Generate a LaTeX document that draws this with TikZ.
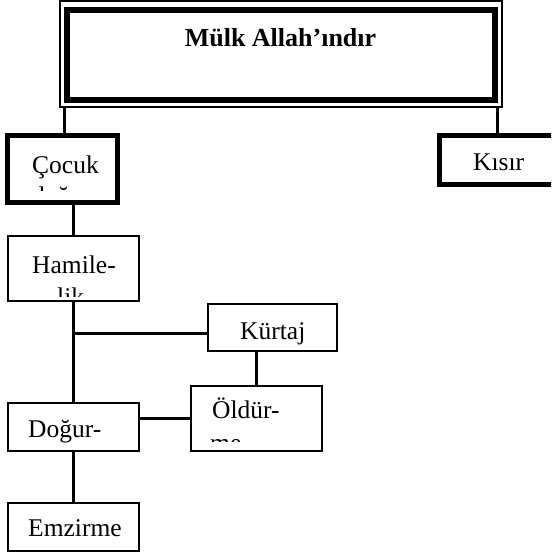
\documentclass[tikz,border=0pt]{standalone}
\usepackage{fontspec}
\setmainfont{Liberation Serif}
\usetikzlibrary{calc}
\tikzset{
  boxthick/.style={draw, rectangle, line width=5pt, inner sep=0pt},
  boxthin/.style={draw, rectangle, line width=1.6pt, inner sep=0pt},
  conn/.style={line width=3.3pt},
  txt/.style={font=\fontsize{25.5}{30}\selectfont, inner sep=0pt, anchor=base west},
}
\begin{document}
\begin{tikzpicture}[x=1pt,y=-1pt]
\useasboundingbox (0,0) rectangle (551,556);
\clip (0,0) rectangle (551,556);
% title boxes
\node[draw, rectangle, line width=1.2pt, minimum width=442pt, minimum height=106pt, inner sep=0pt] (frame) at (281,54) {};
\node[draw, rectangle, line width=6pt, minimum width=428pt, minimum height=90pt, inner sep=0pt] (titlebox) at (281,55) {};
\node[font=\bfseries\fontsize{26}{30}\selectfont, inner sep=0pt, anchor=base] (title) at (280.5,47) {Mülk Allah’ındır};
% level 1
\node[boxthick, minimum width=110pt, minimum height=67pt] (cocuk) at (62.5,169) {};
\node[boxthick, minimum width=123pt, minimum height=49pt] (kisir) at (501,160) {};
% other boxes
\node[boxthin, minimum width=131.4pt, minimum height=65.4pt] (hamile) at (73.5,268.5) {};
\node[boxthin, minimum width=129.4pt, minimum height=47.4pt] (kurtaj) at (272.5,327.5) {};
\node[boxthin, minimum width=131.4pt, minimum height=65.4pt] (oldur) at (256.5,418.5) {};
\node[boxthin, minimum width=131.4pt, minimum height=48.4pt] (dogur) at (73.5,427) {};
\node[boxthin, minimum width=131.4pt, minimum height=48.4pt] (emzirme) at (73.5,527) {};
% texts
\node[txt] (kisirt) at (473,171) {Kısır};
\node[txt] (cocukt) at (32,173) {Çocuk};
\begin{scope}
  \clip (5,133) rectangle (120,190.5);
  \node[txt] (cocukt2) at (32,204) {doğum};
\end{scope}
\node[txt] (hamilet) at (32,273) {Hamile-};
\begin{scope}
  \clip (7,235) rectangle (140,296);
  \node[txt] (hamilet2) at (57,305) {lik};
\end{scope}
\node[txt] (kurtajt) at (240,339) {Kürtaj};
\node[txt] (oldurt) at (212,418) {Öldür-};
\begin{scope}
  \clip (190,385) rectangle (323,441.5);
  \node[txt] (oldurt2) at (210,451) {me};
\end{scope}
\node[txt] (dogurt) at (28,437) {Doğur-};
\node[txt] (emzirmet) at (28,536) {Emzirme};
% connectors
\draw[conn] ([xshift=5pt]frame.south west) -- ([xshift=5pt]frame.south west |- cocuk.north);
\draw[conn] ([xshift=-5pt]frame.south east) -- ([xshift=-5pt]frame.south east |- kisir.north);
\draw[conn] (cocuk.south -| hamile.north) -- (hamile.north);
\draw[conn] (hamile.south) -- (dogur.north);
\draw[conn] ($(hamile.south |- kurtaj.west)+(0,6)$) -- ($(kurtaj.west)+(0,6)$);
\draw[conn] (kurtaj.south -| oldur.north) -- (oldur.north);
\draw[conn] (dogur.east |- oldur.west) -- (oldur.west);
\draw[conn] (dogur.south) -- (emzirme.north);
\end{tikzpicture}
\end{document}
